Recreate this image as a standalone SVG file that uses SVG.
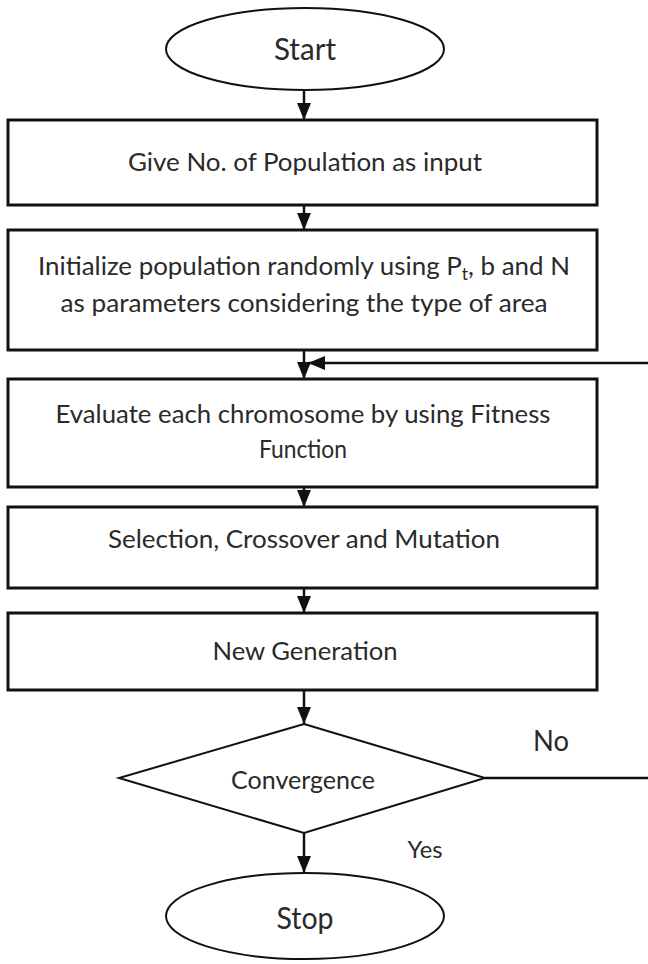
<svg xmlns="http://www.w3.org/2000/svg" width="648" height="964" viewBox="0 0 648 964">
<defs>
<style>
.box{fill:#fff;stroke:#111;stroke-width:3}
.term{fill:#fff;stroke:#111;stroke-width:2}
.t{font-family:Lato,"Liberation Sans",sans-serif;fill:#2a2a2a;text-anchor:middle}
.m{font-size:25px}
.big{font-size:31px}
.conn{fill:none;stroke:#111;stroke-width:2.5}
</style>
<marker id="ah" markerUnits="userSpaceOnUse" markerWidth="18" markerHeight="16" refX="17" refY="7" orient="auto">
<path d="M0,0 L17,7 L0,14 Z" fill="#111"/>
</marker>
</defs>
<rect width="648" height="964" fill="#fff"/>
<g id="connectors">
<line class="conn" x1="304" y1="90" x2="304" y2="120" marker-end="url(#ah)"/>
<line class="conn" x1="304" y1="205" x2="304" y2="230" marker-end="url(#ah)"/>
<line class="conn" x1="304" y1="350" x2="304" y2="379" marker-end="url(#ah)"/>
<line class="conn" x1="304" y1="487" x2="304" y2="507" marker-end="url(#ah)"/>
<line class="conn" x1="304" y1="588" x2="304" y2="613" marker-end="url(#ah)"/>
<line class="conn" x1="304" y1="690" x2="304" y2="724" marker-end="url(#ah)"/>
<line class="conn" x1="304" y1="833" x2="304" y2="873" marker-end="url(#ah)"/>
<path class="conn" d="M485,778 H652 V363 H308" marker-end="url(#ah)"/>
</g>
<g id="start">
<ellipse class="term" cx="305" cy="49" rx="139" ry="41"/>
<text class="t big" x="305" y="60" textLength="62" lengthAdjust="spacingAndGlyphs">Start</text>
</g>
<g id="input">
<rect class="box" x="8" y="120" width="589" height="85"/>
<text class="t m" x="305" y="171" textLength="354" lengthAdjust="spacingAndGlyphs">Give No. of Population as input</text>
</g>
<g id="init">
<rect class="box" x="8" y="230" width="589" height="120"/>
<text class="t m" x="304" y="275" textLength="532" lengthAdjust="spacingAndGlyphs">Initialize population randomly using P<tspan font-size="17" dy="5">t</tspan><tspan dy="-5">, b and N</tspan></text>
<text class="t m" x="304" y="312" textLength="487" lengthAdjust="spacingAndGlyphs">as parameters considering the type of area</text>
</g>
<g id="evaluate">
<rect class="box" x="8" y="379" width="589" height="108"/>
<text class="t m" x="303" y="423" textLength="495" lengthAdjust="spacingAndGlyphs">Evaluate each chromosome by using Fitness</text>
<text class="t m" x="303" y="458" textLength="88" lengthAdjust="spacingAndGlyphs">Function</text>
</g>
<g id="selection">
<rect class="box" x="8" y="507" width="589" height="81"/>
<text class="t m" x="304" y="548" textLength="392" lengthAdjust="spacingAndGlyphs">Selection, Crossover and Mutation</text>
</g>
<g id="newgen">
<rect class="box" x="8" y="613" width="589" height="77"/>
<text class="t m" x="305" y="660" textLength="185" lengthAdjust="spacingAndGlyphs">New Generation</text>
</g>
<g id="convergence">
<polygon class="term" points="304,724 485,778 304,833 119,778"/>
<text class="t m" x="303" y="789" textLength="144" lengthAdjust="spacingAndGlyphs">Convergence</text>
</g>
<g id="labels">
<text class="t" font-size="29" x="551" y="751" textLength="36" lengthAdjust="spacingAndGlyphs">No</text>
<text class="t" font-size="24" x="425" y="858" textLength="35" lengthAdjust="spacingAndGlyphs">Yes</text>
</g>
<g id="stop">
<ellipse class="term" cx="305" cy="916" rx="139" ry="43"/>
<text class="t big" x="305" y="929" textLength="57" lengthAdjust="spacingAndGlyphs">Stop</text>
</g>
</svg>
